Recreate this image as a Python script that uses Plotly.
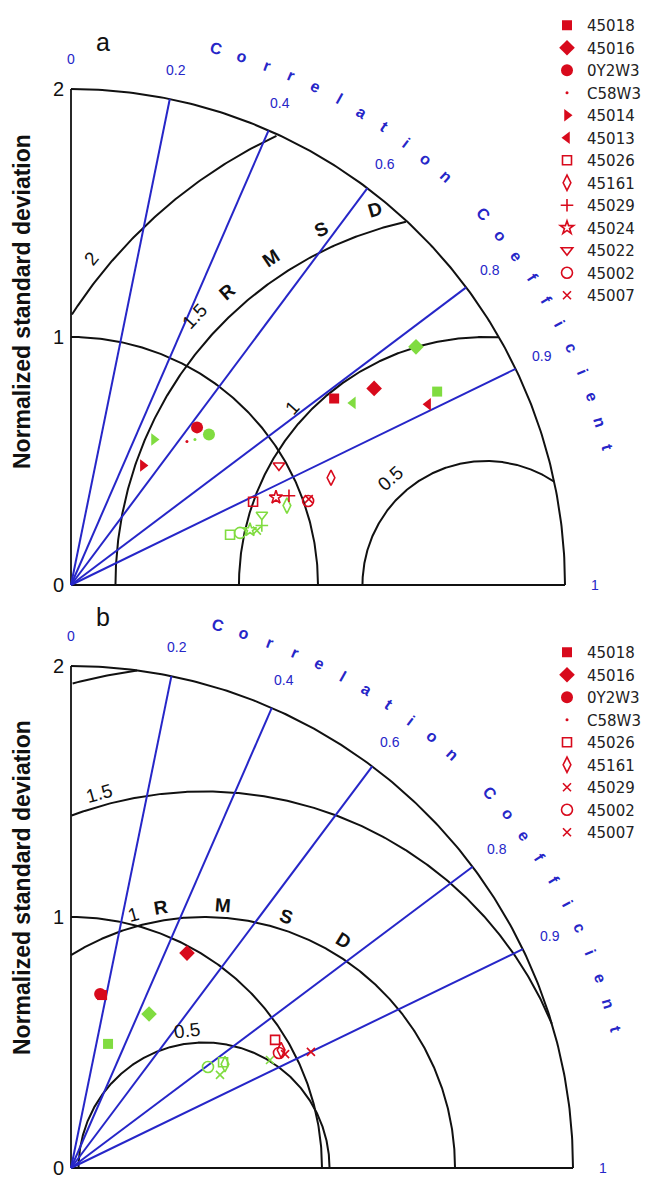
import numpy as np
import plotly.graph_objects as go

W, H = 647, 1185
SPLIT = 600  # pixel row separating the two diagrams

RED = "#d80a1c"
GREEN = "#80dc40"
BLUE = "#2626c8"
BLACK = "#111111"

# ---------------- panel a: station statistics ----------------
stations_a = ["45018", "45016", "0Y2W3", "C58W3", "45014", "45013", "45026",
              "45161", "45029", "45024", "45022", "45002", "45007"]
symbols_a = ["square", "diamond", "circle", "circle", "triangle-right", "triangle-left",
             "square-open", "diamond-tall-open", "cross-thin", "star-open",
             "triangle-down-open", "circle-open", "x-thin"]
std_red_a = [1.304, 1.461, 0.815, 0.745, 0.563, 1.619, 0.810, 1.138, 0.953, 0.902, 0.970, 1.018, 1.023]
corr_red_a = [0.817, 0.840, 0.626, 0.630, 0.517, 0.893, 0.910, 0.925, 0.926, 0.920, 0.868, 0.943, 0.941]
std_green_a = [1.675, 1.695, 0.825, 0.772, 0.676, 1.357, 0.675, 0.931, 0.809, 0.758, 0.823, 0.716, 0.784]
corr_green_a = [0.885, 0.824, 0.677, 0.650, 0.497, 0.841, 0.954, 0.939, 0.955, 0.956, 0.939, 0.956, 0.960]
ref_std_a = 1.68

# ---------------- panel b: station statistics ----------------
stations_b = ["45018", "45016", "0Y2W3", "C58W3", "45026", "45161", "45029", "45002", "45007"]
symbols_b = ["square", "diamond", "circle", "circle", "square-open", "diamond-tall-open",
             "x-thin", "circle-open", "x-thin"]
std_red_b = [0.700, 0.973, 0.703, 0.698, 0.960, 0.960, 0.966, 0.947, 1.062]
corr_red_b = [0.177, 0.475, 0.165, 0.188, 0.847, 0.872, 0.883, 0.875, 0.900]
green_stations_b = ["45018", "45016", "45026", "45161", "45029", "45002", "45007"]
green_symbols_b = ["square", "diamond", "square-open", "diamond-tall-open", "x-thin", "circle-open", "x-thin"]
std_green_b = [0.516, 0.688, 0.738, 0.740, 0.700, 0.678, 0.902]
corr_green_b = [0.286, 0.452, 0.821, 0.829, 0.848, 0.805, 0.879]
ref_std_b = 0.53

# diagram furniture
corr_lines = [0.2, 0.4, 0.6, 0.8, 0.9]
corr_ticks = [0, 0.2, 0.4, 0.6, 0.8, 0.9, 1]
std_circles = [1, 2]
rms_levels = [0.5, 1, 1.5, 2]
std_ticks = [0, 1, 2]
STD_MAX = 2.0

SIZES = {"square": 10, "diamond": 12, "circle": 12, "triangle-right": 11, "triangle-left": 11,
         "square-open": 9, "diamond-tall-open": 11, "cross-thin": 9, "star-open": 10,
         "triangle-down-open": 10, "circle-open": 11, "x-thin": 8}

panels = [
    dict(key="a", xa="x", ya="y", ox=71, oy=585, sx=247, sy=248, ref=ref_std_a,
         legend="legend", top=0, bottom=SPLIT,
         red=(stations_a, symbols_a, std_red_a, corr_red_a),
         green=(stations_a, symbols_a, std_green_a, corr_green_a),
         rms_labels={0.5: (132, 0.58, "0.5"), 1: (137.6, 1.06, "1"), 1.5: (137.5, 1.60, "1.5"),
                     2: (140.5, 2.07, "2")},
         rmsd_letters=[(131.5, 1.58), (123.5, 1.58), (115.0, 1.58), (106.5, 1.58)]),
    dict(key="b", xa="x2", ya="y2", ox=71, oy=1168, sx=251, sy=251, ref=ref_std_b,
         legend="legend2", top=SPLIT, bottom=H,
         red=(stations_b, symbols_b, std_red_b, corr_red_b),
         green=(green_stations_b, green_symbols_b, std_green_b, corr_green_b),
         rms_labels={0.5: (97.0, 0.55, "0.5"), 1: (105.5, 1.05, "1"), 1.5: (105.7, 1.55, "1.5")},
         rmsd_letters=[(99.4, 1.05), (85.8, 1.05), (71.9, 1.055), (58.5, 1.065)]),
]

fig = go.Figure()
annotations = []


def line_trace(x, y, p, color, width):
    fig.add_trace(go.Scatter(x=x, y=y, mode="lines", xaxis=p["xa"], yaxis=p["ya"],
                             line=dict(color=color, width=width), hoverinfo="skip",
                             showlegend=False))


def text(p, x, y, s, size, color=BLACK, angle=0, bold=False, family="Liberation Sans, Arial"):
    annotations.append(dict(x=x, y=y, xref=p["xa"], yref=p["ya"], showarrow=False,
                            text=f"<b>{s}</b>" if bold else s, textangle=angle,
                            xanchor="center", yanchor="middle",
                            font=dict(size=size, color=color, family=family)))


def polar_xy(std, corr):
    std = np.asarray(std, float)
    corr = np.asarray(corr, float)
    return std * corr, std * np.sqrt(1 - corr ** 2)


for p in panels:
    # axes of the quarter diagram
    line_trace([0, 0], [0, STD_MAX], p, BLACK, 1.8)
    line_trace([0, STD_MAX], [0, 0], p, BLACK, 1.8)

    # standard-deviation arcs
    t = np.linspace(0, np.pi / 2, 200)
    for r in std_circles:
        line_trace(r * np.cos(t), r * np.sin(t), p, BLACK, 2)

    # centred RMS difference arcs, clipped to the diagram
    phi = np.linspace(0, np.pi, 600)
    for r in rms_levels:
        x = p["ref"] + r * np.cos(phi)
        y = r * np.sin(phi)
        ok = (x >= 0) & (x ** 2 + y ** 2 <= STD_MAX ** 2 + 1e-9)
        if not ok.any():
            continue
        line_trace(np.where(ok, x, None), np.where(ok, y, None), p, BLACK, 2)

    # correlation rays
    for c in corr_lines:
        line_trace([0, STD_MAX * c], [0, STD_MAX * np.sqrt(1 - c ** 2)], p, BLUE, 2)

    # correlation tick labels
    for c in corr_ticks:
        a = np.arccos(c)
        lab = "0" if c == 0 else ("1" if c == 1 else f"{c:g}")
        text(p, 2.12 * np.cos(a), 2.12 * np.sin(a), lab, 14, BLUE)

    # curved axis title along the outer arc
    title = "Correlation Coefficient"
    for i, ch in enumerate(title):
        if ch == " ":
            continue
        ang = 74.8 - 2.75 * i
        ar = np.deg2rad(ang)
        text(p, 2.24 * np.cos(ar), 2.24 * np.sin(ar), ch, 16, BLUE, angle=90 - ang, bold=True)

    # std tick labels on the vertical axis
    for s in std_ticks:
        text(p, -13 / p["sx"], s, str(s), 20)

    # RMS difference labels
    for lvl, (ang, rad, lab) in p["rms_labels"].items():
        ar = np.deg2rad(ang)
        text(p, p["ref"] + rad * np.cos(ar), rad * np.sin(ar), lab, 19, angle=90 - ang)
    for ch, (ang, rad) in zip("RMSD", p["rmsd_letters"]):
        ar = np.deg2rad(ang)
        text(p, p["ref"] + rad * np.cos(ar), rad * np.sin(ar), ch, 19, angle=90 - ang, bold=True)

    # panel letter
    text(p, (103 - p["ox"]) / p["sx"], (p["oy"] - (42 if p["key"] == "a" else 617)) / p["sy"],
         p["key"], 25)

    # y-axis title
    text(p, (22 - p["ox"]) / p["sx"], (p["oy"] - (302 if p["key"] == "a" else 888)) / p["sy"],
         "Normalized standard deviation", 23, angle=-90, bold=True)

    # station markers: green (not in legend) first, red on top
    for colour, data, legend_on in ((GREEN, p["green"], False), (RED, p["red"], True)):
        names, syms, stds, corrs = data
        xs, ys = polar_xy(stds, corrs)
        for name, sym, x, y in zip(names, syms, xs, ys):
            size = 3 if name == "C58W3" else SIZES[sym]
            fig.add_trace(go.Scatter(
                x=[x], y=[y], mode="markers", name=name, xaxis=p["xa"], yaxis=p["ya"],
                legend=p["legend"], showlegend=legend_on,
                marker=dict(symbol=sym, size=size, color=colour,
                            line=dict(color=colour, width=1.6 if "open" in sym or "thin" in sym else 0)),
                cliponaxis=False))


def x_range(p):
    return [-p["ox"] / p["sx"], (W - p["ox"]) / p["sx"]]


def y_range(p):
    return [-(p["bottom"] - p["oy"]) / p["sy"], (p["oy"] - p["top"]) / p["sy"]]


pa, pb = panels
axis_common = dict(visible=False, showgrid=False, zeroline=False, fixedrange=True)
legend_common = dict(xanchor="left", yanchor="top", bgcolor="rgba(0,0,0,0)",
                     font=dict(size=15, color="#222222", family="DejaVu Sans, Liberation Sans"),
                     itemclick=False, tracegroupgap=0)

fig.update_layout(
    width=W, height=H, margin=dict(l=0, r=0, t=0, b=0),
    paper_bgcolor="white", plot_bgcolor="white",
    xaxis=dict(domain=[0, 1], range=x_range(pa), anchor="y", **axis_common),
    yaxis=dict(domain=[1 - SPLIT / H, 1], range=y_range(pa), anchor="x", **axis_common),
    xaxis2=dict(domain=[0, 1], range=x_range(pb), anchor="y2", **axis_common),
    yaxis2=dict(domain=[0, 1 - SPLIT / H], range=y_range(pb), anchor="x2", **axis_common),
    legend=dict(x=547 / W, y=1 - 9 / H, **legend_common),
    legend2=dict(x=547 / W, y=1 - 636 / H, **legend_common),
    annotations=annotations,
    showlegend=True,
)

fig.write_html("out.html")
